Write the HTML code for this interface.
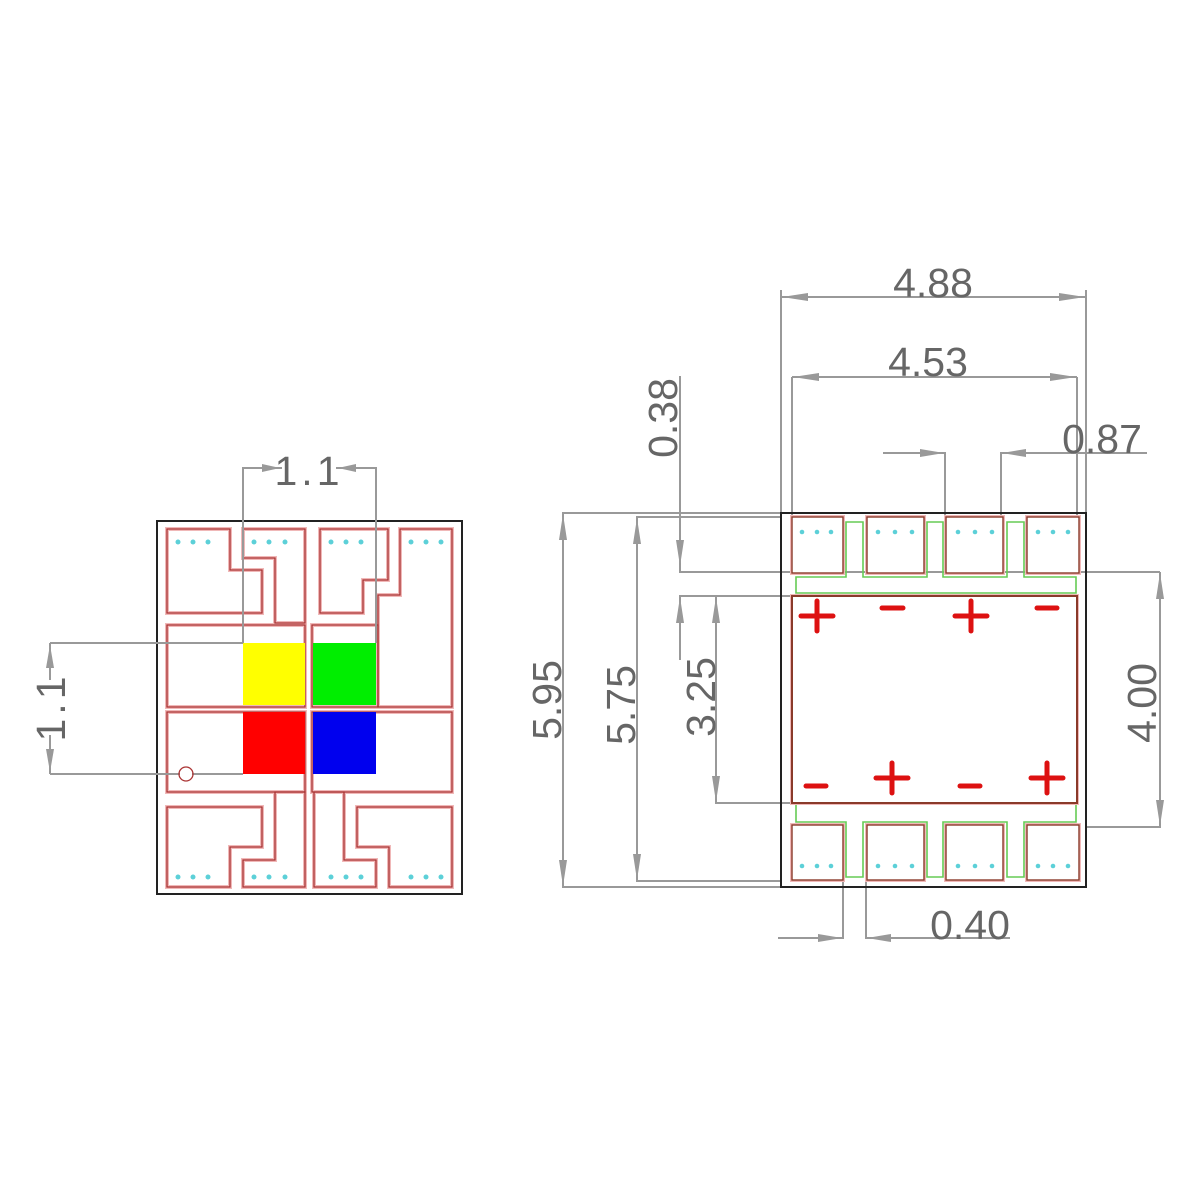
<!DOCTYPE html>
<html><head><meta charset="utf-8"><style>
html,body{margin:0;padding:0;background:#fff}
svg{display:block}
text{font-family:"Liberation Sans",sans-serif;fill:#666;font-size:41px}
</style></head><body>
<svg width="1200" height="1200" viewBox="0 0 1200 1200" xmlns="http://www.w3.org/2000/svg">
<rect width="1200" height="1200" fill="#fff"/>

<!-- ===== LEFT PACKAGE ===== -->
<rect x="157" y="521" width="305" height="373" fill="none" stroke="#222" stroke-width="2"/>
<g fill="none" stroke-linejoin="miter">
 <g stroke="#f0b8b8" stroke-width="4">
  <polygon points="167,529 230,529 230,570 262,570 262,613 167,613"/>
  <polygon points="243,529 305,529 305,623 275,623 275,558 243,558"/>
  <polygon points="320,529 388,529 388,580 363,580 363,613 320,613"/>
  <polygon points="400,529 452,529 452,707 378,707 378,625 378,595 400,595"/>
  <polygon points="167,625 305,625 305,707 167,707"/>
  <polygon points="312,625 378,625 378,707 312,707"/>
  <polygon points="167,712 305,712 305,792 167,792"/>
  <polygon points="312,712 452,712 452,792 312,792"/>
  <polygon points="167,807 262,807 262,847 230,847 230,887 167,887"/>
  <polygon points="243,860 275,860 275,792 305,792 305,887 243,887"/>
  <polygon points="376,860 344,860 344,792 314,792 314,887 376,887"/>
  <polygon points="452,807 357,807 357,847 389,847 389,887 452,887"/>
 </g>
 <g stroke="#a33" stroke-width="1.3">
  <polygon points="167,529 230,529 230,570 262,570 262,613 167,613"/>
  <polygon points="243,529 305,529 305,623 275,623 275,558 243,558"/>
  <polygon points="320,529 388,529 388,580 363,580 363,613 320,613"/>
  <polygon points="400,529 452,529 452,707 378,707 378,625 378,595 400,595"/>
  <polygon points="167,625 305,625 305,707 167,707"/>
  <polygon points="312,625 378,625 378,707 312,707"/>
  <polygon points="167,712 305,712 305,792 167,792"/>
  <polygon points="312,712 452,712 452,792 312,792"/>
  <polygon points="167,807 262,807 262,847 230,847 230,887 167,887"/>
  <polygon points="243,860 275,860 275,792 305,792 305,887 243,887"/>
  <polygon points="376,860 344,860 344,792 314,792 314,887 376,887"/>
  <polygon points="452,807 357,807 357,847 389,847 389,887 452,887"/>
 </g>
</g>
<rect x="243" y="643" width="62" height="62" fill="#ffff00"/>
<rect x="313" y="643" width="63" height="62" fill="#00ee00"/>
<rect x="243" y="712" width="62" height="62" fill="#ff0000"/>
<rect x="313" y="712" width="63" height="62" fill="#0000ee"/>
<g fill="#5cd0d8">
 <circle cx="178" cy="542" r="2.5"/><circle cx="193" cy="542" r="2.5"/><circle cx="208" cy="542" r="2.5"/>
 <circle cx="254" cy="542" r="2.5"/><circle cx="269" cy="542" r="2.5"/><circle cx="285" cy="542" r="2.5"/>
 <circle cx="331" cy="542" r="2.5"/><circle cx="346" cy="542" r="2.5"/><circle cx="361" cy="542" r="2.5"/>
 <circle cx="411" cy="542" r="2.5"/><circle cx="426" cy="542" r="2.5"/><circle cx="441" cy="542" r="2.5"/>
 <circle cx="178" cy="877" r="2.5"/><circle cx="193" cy="877" r="2.5"/><circle cx="208" cy="877" r="2.5"/>
 <circle cx="254" cy="877" r="2.5"/><circle cx="269" cy="877" r="2.5"/><circle cx="285" cy="877" r="2.5"/>
 <circle cx="331" cy="877" r="2.5"/><circle cx="346" cy="877" r="2.5"/><circle cx="361" cy="877" r="2.5"/>
 <circle cx="411" cy="877" r="2.5"/><circle cx="426" cy="877" r="2.5"/><circle cx="441" cy="877" r="2.5"/>
</g>
<!-- left dims -->
<g stroke="#999" stroke-width="2" fill="none">
 <polyline points="243,643 243,468 282,468"/>
 <polyline points="376,643 376,468 336,468"/>
 <line x1="50" y1="643" x2="243" y2="643"/>
 <line x1="50" y1="774" x2="180" y2="774"/>
 <line x1="192" y1="774" x2="243" y2="774"/>
 <line x1="50" y1="643" x2="50" y2="680"/>
 <line x1="50" y1="735" x2="50" y2="774"/>
</g>
<circle cx="186" cy="774" r="7" fill="none" stroke="#a33" stroke-width="1.3"/>
<g fill="#999">
 <polygon points="280,468 262,464 262,472"/>
 <polygon points="338,468 356,464 356,472"/>
 <polygon points="50,645 46,668 54,668"/>
 <polygon points="50,772 46,749 54,749"/>
</g>
<text x="309" y="485" text-anchor="middle" letter-spacing="4">1.1</text>
<text x="50" y="722" text-anchor="middle" letter-spacing="4" transform="rotate(-90 50 707)">1.1</text>

<!-- ===== RIGHT PACKAGE ===== -->
<g stroke="#999" stroke-width="2" fill="none">
 <!-- 4.88 -->
 <line x1="781" y1="290" x2="781" y2="513"/>
 <line x1="1086" y1="290" x2="1086" y2="513"/>
 <line x1="781" y1="297" x2="1086" y2="297"/>
 <!-- 4.53 -->
 <line x1="792" y1="377" x2="792" y2="517"/>
 <line x1="1077" y1="377" x2="1077" y2="517"/>
 <line x1="792" y1="377" x2="1077" y2="377"/>
 <!-- 0.87 -->
 <polyline points="883,453 945,453 945,517"/>
 <polyline points="1147,453 1001,453 1001,517"/>
 <!-- 5.95 -->
 <polyline points="781,513 563,513 563,887 781,887"/>
 <!-- 5.75 -->
 <polyline points="781,517 637,517 637,881 781,881"/>
 <!-- 0.38 -->
 <polyline points="680,376 680,572 1160,572"/>
 <!-- 3.25 -->
 <polyline points="792,596 680,596 680,660"/>
 <polyline points="716,596 716,803 792,803"/>
 <!-- 4.00 -->
 <polyline points="1086,827 1160,827 1160,572"/>
 <!-- 0.40 -->
 <polyline points="778,938 843,938 843,880"/>
 <polyline points="866,880 866,938 1010,938"/>
</g>
<g fill="#999">
 <polygon points="782,297 808,293 808,301"/>
 <polygon points="1085,297 1059,293 1059,301"/>
 <polygon points="793,377 819,373 819,381"/>
 <polygon points="1076,377 1050,373 1050,381"/>
 <polygon points="944,453 920,449 920,457"/>
 <polygon points="1002,453 1026,449 1026,457"/>
 <polygon points="563,514 559,540 567,540"/>
 <polygon points="563,886 559,860 567,860"/>
 <polygon points="637,518 633,544 641,544"/>
 <polygon points="637,880 633,854 641,854"/>
 <polygon points="680,566 676,540 684,540"/>
 <polygon points="680,597 676,623 684,623"/>
 <polygon points="716,597 712,623 720,623"/>
 <polygon points="716,802 712,776 720,776"/>
 <polygon points="1160,573 1156,599 1164,599"/>
 <polygon points="1160,826 1156,800 1164,800"/>
 <polygon points="842,938 818,934 818,942"/>
 <polygon points="867,938 891,934 891,942"/>
</g>
<text x="933" y="297" text-anchor="middle">4.88</text>
<text x="928" y="376" text-anchor="middle">4.53</text>
<text x="1102" y="453" text-anchor="middle">0.87</text>
<text x="970" y="939" text-anchor="middle">0.40</text>
<text x="662" y="433" text-anchor="middle" transform="rotate(-90 662 418)">0.38</text>
<text x="546" y="715" text-anchor="middle" transform="rotate(-90 546 700)">5.95</text>
<text x="620" y="720" text-anchor="middle" transform="rotate(-90 620 705)">5.75</text>
<text x="700" y="712" text-anchor="middle" transform="rotate(-90 700 697)">3.25</text>
<text x="1141" y="718" text-anchor="middle" transform="rotate(-90 1141 703)">4.00</text>

<rect x="781" y="513" width="305" height="374" fill="none" stroke="#222" stroke-width="2"/>
<!-- green -->
<g fill="none" stroke="#66cc55" stroke-width="1.6">
 <path d="M796,593 L796,577 L846,577 L846,522 L863,522 L863,577 L927,577 L927,522 L943,522 L943,577 L1007,577 L1007,522 L1024,522 L1024,577 L1076,577 L1076,593 Z"/>
 <path d="M796,804 L1076,804 L1076,822 L1024,822 L1024,877 L1007,877 L1007,822 L943,822 L943,877 L927,877 L927,822 L863,822 L863,877 L846,877 L846,822 L796,822 Z"/>
</g>
<g fill="#fff">
 <g stroke="#f0b8b8" stroke-width="4">
  <rect x="792" y="517" width="51" height="56"/><rect x="867" y="517" width="57" height="56"/>
  <rect x="946" y="517" width="57" height="56"/><rect x="1027" y="517" width="52" height="56"/>
  <rect x="792" y="825" width="51" height="55"/><rect x="867" y="825" width="57" height="55"/>
  <rect x="946" y="825" width="57" height="55"/><rect x="1027" y="825" width="52" height="55"/>
  <rect x="792" y="596" width="285" height="207"/>
 </g>
 <g stroke="#8a3a2a" stroke-width="1.4">
  <rect x="792" y="517" width="51" height="56"/><rect x="867" y="517" width="57" height="56"/>
  <rect x="946" y="517" width="57" height="56"/><rect x="1027" y="517" width="52" height="56"/>
  <rect x="792" y="825" width="51" height="55"/><rect x="867" y="825" width="57" height="55"/>
  <rect x="946" y="825" width="57" height="55"/><rect x="1027" y="825" width="52" height="55"/>
  <rect x="792" y="596" width="285" height="207" stroke-width="2"/>
 </g>
</g>
<g fill="#5cd0d8">
 <circle cx="802" cy="532" r="2.3"/><circle cx="817" cy="532" r="2.3"/><circle cx="831" cy="532" r="2.3"/>
 <circle cx="878" cy="532" r="2.3"/><circle cx="895" cy="532" r="2.3"/><circle cx="912" cy="532" r="2.3"/>
 <circle cx="958" cy="532" r="2.3"/><circle cx="975" cy="532" r="2.3"/><circle cx="992" cy="532" r="2.3"/>
 <circle cx="1038" cy="532" r="2.3"/><circle cx="1053" cy="532" r="2.3"/><circle cx="1068" cy="532" r="2.3"/>
 <circle cx="802" cy="866" r="2.3"/><circle cx="817" cy="866" r="2.3"/><circle cx="831" cy="866" r="2.3"/>
 <circle cx="878" cy="866" r="2.3"/><circle cx="895" cy="866" r="2.3"/><circle cx="912" cy="866" r="2.3"/>
 <circle cx="958" cy="866" r="2.3"/><circle cx="975" cy="866" r="2.3"/><circle cx="992" cy="866" r="2.3"/>
 <circle cx="1038" cy="866" r="2.3"/><circle cx="1053" cy="866" r="2.3"/><circle cx="1068" cy="866" r="2.3"/>
</g>
<!-- plus / minus -->
<g stroke="#dd1111" stroke-width="5" stroke-linecap="round">
 <line x1="801" y1="616" x2="833" y2="616"/><line x1="817" y1="601" x2="817" y2="631"/>
 <line x1="882" y1="608" x2="903" y2="608"/>
 <line x1="955" y1="616" x2="987" y2="616"/><line x1="971" y1="601" x2="971" y2="631"/>
 <line x1="1037" y1="608" x2="1057" y2="608"/>
 <line x1="806" y1="786" x2="826" y2="786"/>
 <line x1="876" y1="778" x2="908" y2="778"/><line x1="892" y1="763" x2="892" y2="793"/>
 <line x1="960" y1="786" x2="980" y2="786"/>
 <line x1="1031" y1="778" x2="1063" y2="778"/><line x1="1047" y1="763" x2="1047" y2="793"/>
</g>
</svg>
</body></html>
